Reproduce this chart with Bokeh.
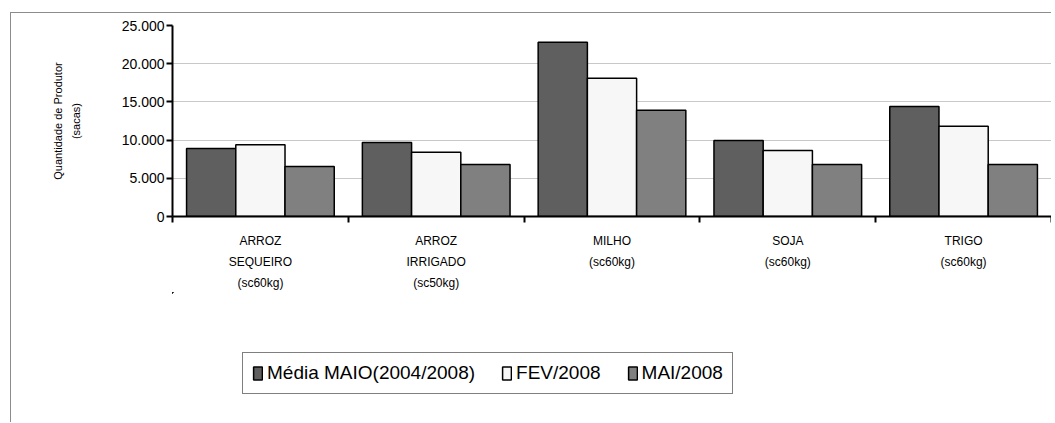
from bokeh.plotting import figure
from bokeh.models import ColumnDataSource, Range1d, FixedTicker, Legend, LegendItem, LinearAxis
from bokeh.layouts import column
from bokeh.transform import dodge
from bokeh.embed import file_html
from bokeh.resources import INLINE

categories = ["ARROZ SEQUEIRO (sc60kg)", "ARROZ IRRIGADO (sc50kg)", "MILHO (sc60kg)",
              "SOJA (sc60kg)", "TRIGO (sc60kg)"]
label_line1 = ["ARROZ", "ARROZ", "MILHO", "SOJA", "TRIGO"]
label_line2 = ["SEQUEIRO", "IRRIGADO", "(sc60kg)", "(sc60kg)", "(sc60kg)"]
label_line3 = ["(sc60kg)", "(sc50kg)", "", "", ""]
media_maio = [8900, 9700, 22800, 9950, 14400]
fev_2008 = [9400, 8400, 18100, 8650, 11800]
mai_2008 = [6550, 6800, 13900, 6800, 6800]
series_names = ["Média MAIO(2004/2008)", "FEV/2008", "MAI/2008"]
y_ticks = [0, 5000, 10000, 15000, 20000, 25000]
y_tick_labels = ["0", "5.000", "10.000", "15.000", "20.000", "25.000"]
y_title = "Quantidade de Produtor\n(sacas)"

FONT = "Liberation Sans"
colors = ["#5f5f5f", "#f7f7f7", "#808080"]
keys = ["a", "b", "c"]
bw = 0.28
offsets = [-bw, 0, bw]
centers = [i + 0.5 for i in range(len(categories))]
src = ColumnDataSource(dict(x=centers, a=media_maio, b=fev_2008, c=mai_2008))

p = figure(frame_width=879, frame_height=191, output_backend="svg", toolbar_location=None,
           x_range=Range1d(0, len(categories)), y_range=Range1d(0, 25000),
           min_border_left=161, min_border_right=0, min_border_top=12, min_border_bottom=0)
p.outline_line_color = None
p.background_fill_color = "white"
p.border_fill_color = "white"

for key, off, col in zip(keys, offsets, colors):
    p.vbar(x=dodge("x", off), top=key, width=bw, source=src, fill_color=col,
           line_color="black", line_width=1.5)

def style_labels(ax):
    ax.major_label_text_font = FONT
    ax.major_label_text_font_size = "12px"
    ax.major_label_text_color = "black"
    ax.major_label_orientation = "horizontal"

# x axis: first label line at centres, ticks at category boundaries (minor)
xa = p.xaxis[0]
xa.ticker = FixedTicker(ticks=centers, minor_ticks=list(range(len(categories) + 1)))
xa.major_label_overrides = {c: lab for c, lab in zip(centers, label_line1)}
xa.major_tick_out = 0
xa.major_tick_in = 0
xa.minor_tick_out = 6
xa.minor_tick_in = 0
xa.minor_tick_line_color = "black"
xa.minor_tick_line_width = 2
xa.axis_line_color = "black"
xa.axis_line_width = 2
xa.major_label_standoff = 11
style_labels(xa)

for lines in [label_line2, label_line3]:
    ax = LinearAxis(ticker=FixedTicker(ticks=centers, minor_ticks=[]),
                    major_label_overrides={c: lab for c, lab in zip(centers, lines)})
    ax.axis_line_color = None
    ax.major_tick_line_color = None
    ax.minor_tick_line_color = None
    ax.major_label_standoff = -2
    style_labels(ax)
    p.add_layout(ax, "below")

ya = p.yaxis[0]
ya.ticker = FixedTicker(ticks=y_ticks, minor_ticks=[])
ya.major_label_overrides = {t: l for t, l in zip(y_ticks, y_tick_labels)}
ya.axis_line_color = "black"
ya.axis_line_width = 2
ya.major_tick_out = 6
ya.major_tick_in = 0
ya.major_tick_line_width = 2
ya.major_tick_line_color = "black"
ya.minor_tick_line_color = None
ya.major_label_text_font = FONT
ya.major_label_text_font_size = "14px"
ya.major_label_text_color = "black"
ya.major_label_standoff = 2
ya.axis_label = y_title
ya.axis_label_text_font = FONT
ya.axis_label_text_font_size = "11px"
ya.axis_label_text_font_style = "normal"
ya.axis_label_text_color = "black"
ya.axis_label_text_line_height = 1.5
ya.axis_label_standoff = 37

p.xgrid.grid_line_color = None
p.ygrid.grid_line_color = "#c8c8c8"
p.ygrid.grid_line_width = 1

# legend strip below the chart; its renderers repeat the bar styles (kept out of view)
lf = figure(width=1040, height=130, output_backend="svg", toolbar_location=None,
            x_range=Range1d(100, 101), y_range=Range1d(-2, -1),
            x_axis_location=None, y_axis_location=None,
            min_border_left=161, min_border_right=0, min_border_top=0, min_border_bottom=0)
lf.outline_line_color = None
lf.grid.grid_line_color = None
lf.background_fill_color = "white"
lf.border_fill_color = "white"
leg_renderers = []
for key, off, col in zip(keys, offsets, colors):
    leg_renderers.append(lf.vbar(x=dodge("x", off), top=key, bottom=0, width=bw, source=src,
                                 fill_color=col, line_color="black", line_width=1.5))

legend = Legend(items=[LegendItem(label=n, renderers=[r]) for n, r in zip(series_names, leg_renderers)],
                orientation="horizontal", location=(70, 28))
legend.label_text_font = FONT
legend.label_text_font_size = "19px"
legend.label_text_color = "black"
legend.glyph_width = 11
legend.glyph_height = 16
legend.label_standoff = 4
legend.spacing = 26
legend.padding = 9
legend.margin = 0
legend.border_line_color = "black"
legend.border_line_width = 1
legend.background_fill_color = "white"
legend.background_fill_alpha = 1
lf.add_layout(legend, "center")

layout = column(p, lf, spacing=0)
layout.styles = {"border-left": "1px solid #8c8c8c", "border-top": "1px solid #8c8c8c",
                 "margin-left": "10px", "margin-top": "12px"}

open("out.html", "w").write(file_html(layout, INLINE))
